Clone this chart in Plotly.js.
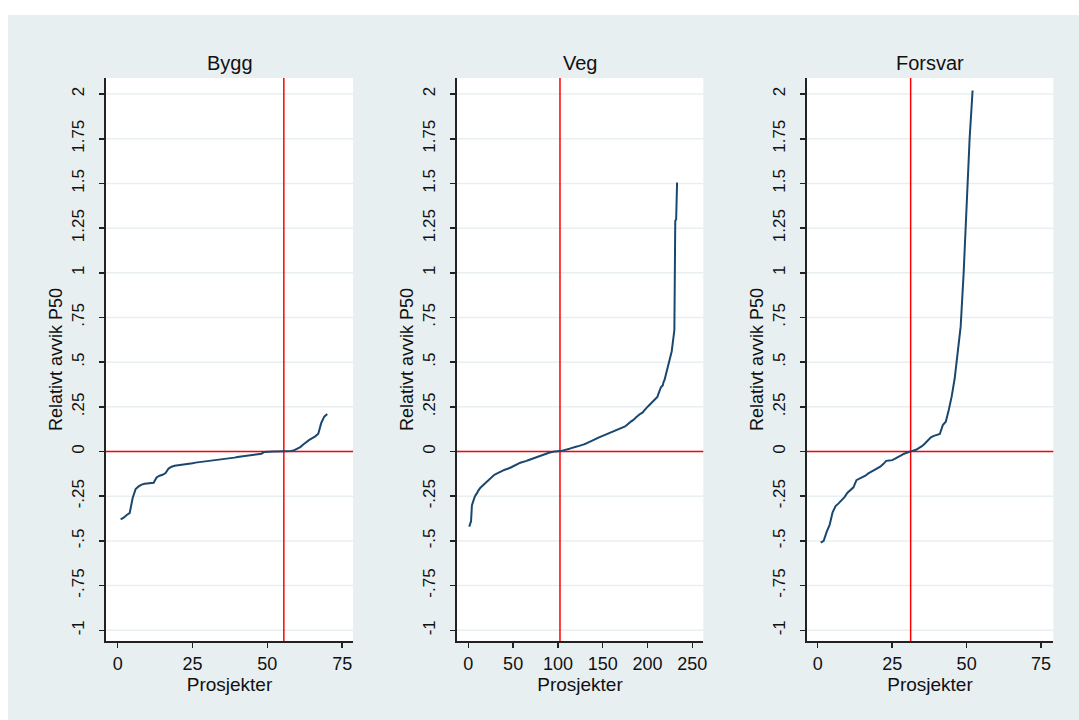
<!DOCTYPE html>
<html>
<head>
<meta charset="utf-8">
<script src="https://cdn.plot.ly/plotly-3.0.1.min.js"></script>
<style>
  html, body { margin: 0; padding: 0; background: #ffffff; }
  #chart { width: 1079px; height: 720px; }
</style>
</head>
<body>
<div id="chart"></div>
<script>
// Relative deviation from P50, projects sorted by deviation, per sector
const panelTitles = ["Bygg", "Veg", "Forsvar"];

const bygg = [
  -0.38, -0.37, -0.355, -0.345, -0.26, -0.21, -0.195, -0.185, -0.18, -0.178,
  -0.178, -0.175, -0.145, -0.135, -0.13, -0.12, -0.095, -0.085, -0.08, -0.078,
  -0.075, -0.07, -0.068, -0.066, -0.065, -0.062, -0.06, -0.058, -0.057, -0.055,
  -0.053, -0.05, -0.048, -0.046, -0.044, -0.04, -0.038, -0.036, -0.034, -0.03,
  -0.028, -0.026, -0.024, -0.022, -0.02, -0.018, -0.016, -0.012, -0.002, 0,
  0, 0, 0, 0, 0, 0, 0, 0.003, 0.008, 0.015,
  0.025, 0.04, 0.055, 0.065, 0.075, 0.085, 0.1, 0.16, 0.195, 0.21
];

const veg = [
  -0.42, -0.40, -0.39, -0.30, -0.28, -0.265, -0.255, -0.245, -0.24, -0.23,
  -0.22, -0.21, -0.205, -0.20, -0.195, -0.19, -0.185, -0.18, -0.175, -0.17,
  -0.165, -0.16, -0.155, -0.15, -0.148, -0.145, -0.14, -0.135, -0.13, -0.128,
  -0.125, -0.122, -0.12, -0.117, -0.114, -0.112, -0.11, -0.108, -0.105, -0.103,
  -0.10, -0.10, -0.098, -0.096, -0.095, -0.094, -0.09, -0.088, -0.085, -0.082,
  -0.08, -0.078, -0.075, -0.072, -0.07, -0.068, -0.065, -0.063, -0.062, -0.06,
  -0.06, -0.058, -0.056, -0.055, -0.052, -0.05, -0.048, -0.046, -0.044, -0.042,
  -0.04, -0.038, -0.036, -0.034, -0.032, -0.03, -0.03, -0.028, -0.026, -0.025,
  -0.024, -0.022, -0.02, -0.018, -0.016, -0.014, -0.012, -0.01, -0.008, -0.007,
  -0.006, -0.004, -0.003, -0.002, -0.001, 0, 0, 0, 0, 0,
  0, 0, 0.002, 0.004, 0.005, 0.006, 0.007, 0.008, 0.008, 0.01,
  0.012, 0.014, 0.016, 0.018, 0.02, 0.022, 0.024, 0.025, 0.026, 0.027,
  0.028, 0.029, 0.03, 0.031, 0.033, 0.035, 0.037, 0.038, 0.04, 0.042,
  0.044, 0.046, 0.048, 0.05, 0.052, 0.054, 0.056, 0.058, 0.06, 0.065,
  0.068, 0.07, 0.072, 0.075, 0.077, 0.08, 0.083, 0.085, 0.087, 0.089,
  0.091, 0.093, 0.095, 0.097, 0.099, 0.101, 0.103, 0.105, 0.107, 0.109,
  0.111, 0.113, 0.115, 0.117, 0.119, 0.121, 0.123, 0.125, 0.127, 0.128,
  0.129, 0.13, 0.132, 0.136, 0.14, 0.145, 0.15, 0.155, 0.16, 0.163,
  0.166, 0.17, 0.172, 0.175, 0.18, 0.185, 0.19, 0.195, 0.2, 0.205,
  0.208, 0.211, 0.214, 0.217, 0.22, 0.228, 0.235, 0.24, 0.245, 0.25,
  0.255, 0.26, 0.265, 0.27, 0.275, 0.28, 0.285, 0.29, 0.295, 0.298,
  0.305, 0.32, 0.335, 0.35, 0.36, 0.365, 0.37, 0.39, 0.40, 0.42,
  0.44, 0.46, 0.48, 0.50, 0.52, 0.55, 0.56, 0.60, 0.66, 0.68,
  1.29, 1.30, 1.50, 1.50
];

const forsvar = [
  -0.51, -0.50, -0.45, -0.41, -0.34, -0.305, -0.29, -0.275, -0.255, -0.23,
  -0.212, -0.20, -0.16, -0.152, -0.145, -0.135, -0.122, -0.112, -0.104, -0.095,
  -0.085, -0.07, -0.052, -0.05, -0.048, -0.04, -0.033, -0.022, -0.012, -0.005,
  0, 0.005, 0.01, 0.018, 0.03, 0.045, 0.06, 0.08, 0.088, 0.093,
  0.098, 0.148, 0.167, 0.232, 0.31, 0.41, 0.54, 0.70, 1.0, 1.42,
  1.75, 2.02
];

// Project rank at which each sector's reference line is placed
const medianRank = [55.5, 102.3, 31.2];

const yTickVals = [-1, -0.75, -0.5, -0.25, 0, 0.25, 0.5, 0.75, 1, 1.25, 1.5, 1.75, 2];
const yTickText = ["-1", "-.75", "-.5", "-.25", "0", ".25", ".5", ".75", "1", "1.25", "1.5", "1.75", "2"];
const xTickVals = [[0, 25, 50, 75], [0, 50, 100, 150, 200, 250], [0, 25, 50, 75]];
const xRanges = [[-3.9, 78.6], [-13, 262.3], [-3.7, 79.1]];

const xTitle = "Prosjekter";
const yTitle = "Relativt avvik P50";

// ---- layout geometry (pixels on a 1079 x 720 page) ----
const W = 1079, H = 720;
const panelPx = [[106, 353], [456.7, 703.3], [806.7, 1053.3]];
const plotTop = 78, plotBottom = 641;
const yRange = [-1.06, 2.09];

const series = [bygg, veg, forsvar];
const FONT = "Liberation Sans, Arial, sans-serif";
const TEXT = "#111111";
const LINE = "#1a476f";
const RED = "#ff0000";
const GRID = "#e8eff1";
const BG = "#e8eff1";

const traces = [];
const shapes = [];
const annotations = [];
const layout = {
  width: W, height: H,
  margin: {l: 0, r: 0, t: 0, b: 0, pad: 0},
  paper_bgcolor: BG,
  plot_bgcolor: "#ffffff",
  showlegend: false,
  font: {family: FONT, color: TEXT, size: 17}
};

series.forEach((vals, i) => {
  const n = i + 1;
  const xa = "x" + (n === 1 ? "" : n);
  const ya = "y" + (n === 1 ? "" : n);
  traces.push({
    type: "scatter", mode: "lines",
    x: vals.map((_, k) => k + 1),
    y: vals,
    xaxis: xa, yaxis: ya,
    line: {color: LINE, width: 2},
    hoverinfo: "skip"
  });

  layout["xaxis" + (n === 1 ? "" : n)] = {
    domain: [panelPx[i][0] / W, panelPx[i][1] / W],
    anchor: ya,
    range: xRanges[i],
    tickmode: "array", tickvals: xTickVals[i],
    ticks: "outside", ticklen: 5, tickwidth: 1.5, tickcolor: "#222",
    showline: true, linecolor: "#222", linewidth: 2,
    showgrid: false, zeroline: false,
    tickfont: {family: FONT, size: 18, color: TEXT},
    title: {text: xTitle, font: {family: FONT, size: 19, color: TEXT}, standoff: 0}
  };
  layout["yaxis" + (n === 1 ? "" : n)] = {
    domain: [1 - plotBottom / H, 1 - plotTop / H],
    anchor: xa,
    range: yRange,
    tickmode: "array", tickvals: yTickVals, ticktext: yTickText,
    tickangle: -90,
    ticks: "outside", ticklen: 5, tickwidth: 1.5, tickcolor: "#222",
    showline: true, linecolor: "#222", linewidth: 2,
    showgrid: false,
    zeroline: false,
    tickfont: {family: FONT, size: 17, color: TEXT},
    ticklabelstandoff: 8,
    title: {text: yTitle, font: {family: FONT, size: 18, color: TEXT}, standoff: 2}
  };

  // horizontal grid lines at each y tick, under the reference lines
  yTickVals.forEach(v => {
    shapes.push({
      type: "line", layer: "below",
      xref: xa + " domain", yref: ya,
      x0: 0, x1: 1, y0: v, y1: v,
      line: {color: GRID, width: 1.5}
    });
  });
  // zero line across the panel
  shapes.push({
    type: "line", layer: "below",
    xref: xa + " domain", yref: ya,
    x0: 0, x1: 1, y0: 0, y1: 0,
    line: {color: RED, width: 1.5}
  });
  // vertical reference line
  shapes.push({
    type: "line", layer: "below",
    xref: xa, yref: ya + " domain",
    x0: medianRank[i], x1: medianRank[i], y0: 0, y1: 1,
    line: {color: RED, width: 1.5}
  });

  annotations.push({
    text: panelTitles[i],
    xref: "paper", yref: "paper",
    x: (panelPx[i][0] + panelPx[i][1]) / 2 / W,
    y: 1 - 63 / H,
    xanchor: "center", yanchor: "middle",
    showarrow: false,
    font: {family: FONT, size: 20, color: TEXT}
  });
});

// white page border at the top and left edges
shapes.push({
  type: "rect", layer: "above", xref: "paper", yref: "paper",
  x0: 0, x1: 1, y0: 1 - 15 / H, y1: 1,
  fillcolor: "#ffffff", line: {width: 0}
});
shapes.push({
  type: "rect", layer: "above", xref: "paper", yref: "paper",
  x0: 0, x1: 8 / W, y0: 0, y1: 1,
  fillcolor: "#ffffff", line: {width: 0}
});

layout.shapes = shapes;
layout.annotations = annotations;

Plotly.newPlot("chart", traces, layout, {displayModeBar: false, staticPlot: true});
</script>
</body>
</html>
